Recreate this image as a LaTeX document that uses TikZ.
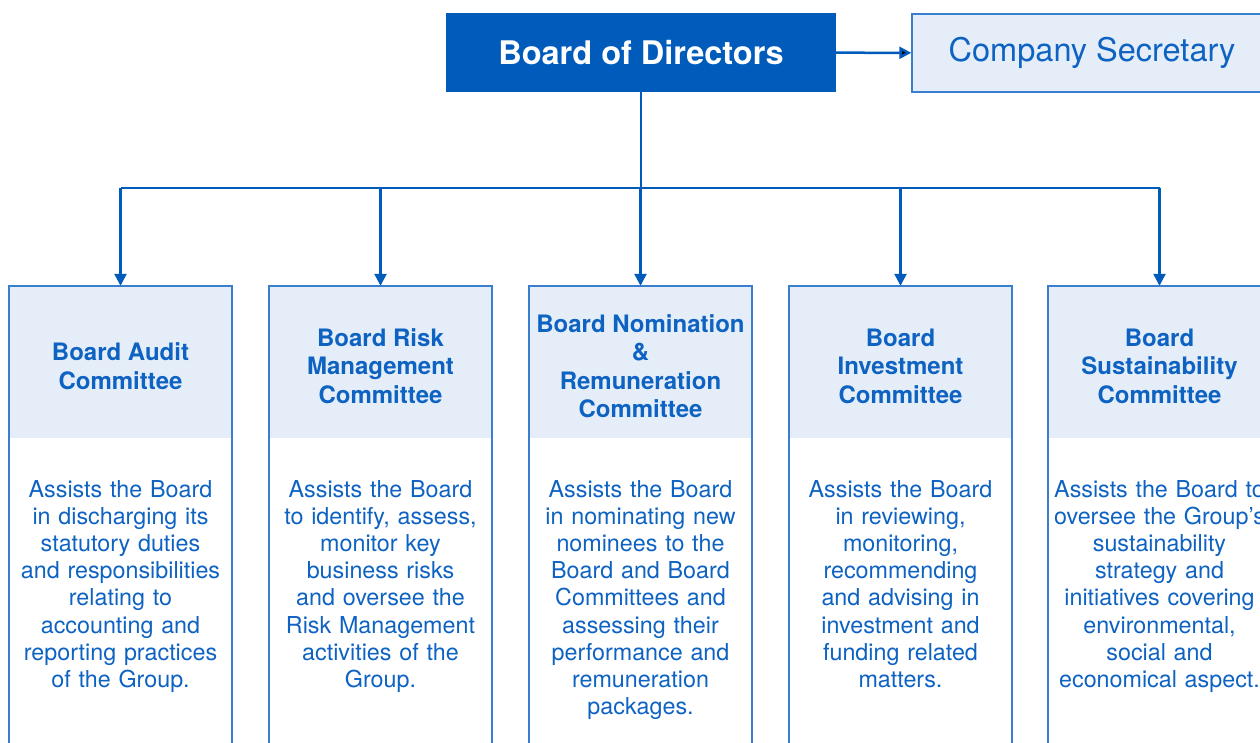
\documentclass[tikz,border=0pt]{standalone}
\usepackage{fontspec}
\setmainfont{TeX Gyre Heros}
\usetikzlibrary{arrows.meta}
\definecolor{boardBlue}{HTML}{005BBB}
\definecolor{paleBlue}{HTML}{E5EEF8}
\definecolor{lineBlue}{HTML}{3A7FCF}
\definecolor{textBlue}{HTML}{0D62C2}

\begin{document}
\begin{tikzpicture}[x=1pt, y=-1pt, >={Triangle[length=12pt,width=12pt]}]
        \tikzstyle{boardStyle} = [fill=boardBlue, text=white, inner sep=0pt,
            minimum width=390pt, minimum height=79pt,
            font=\fontsize{32.5}{38}\selectfont\bfseries]
        \tikzstyle{secStyle} = [draw=lineBlue, line width=1.5pt, fill=paleBlue,
            text=textBlue, inner sep=0pt, minimum width=360pt, minimum height=78pt,
            font=\fontsize{32.5}{38}\selectfont]
        \tikzstyle{headStyle} = [fill=paleBlue, inner sep=0pt,
            minimum width=223pt, minimum height=152pt]
        \tikzstyle{titleStyle} = [text=textBlue, inner sep=0pt, align=center,
            font=\fontsize{24}{28.5}\selectfont\bfseries]
        \tikzstyle{bodyStyle} = [text=textBlue, inner sep=0pt, anchor=north,
            text width=230pt, align=center, font=\fontsize{23.3}{27.2}\selectfont]
        \tikzstyle{blueEdge} = [draw=boardBlue, line width=2.5pt]
        \useasboundingbox (0,0) rectangle (1260,742);
        \clip (0,0) rectangle (1260,742);
        % top row
        \node[boardStyle] (bod) at (641,52.5) {Board of Directors};
        \node[secStyle] (sec) at (1092,53) {Company Secretary};
        % committees
        \node[headStyle] (audit) at (120.5,362) {};
        \node[headStyle] (risk) at (380.5,362) {};
        \node[headStyle] (nom) at (640.5,362) {};
        \node[headStyle] (inv) at (900.5,362) {};
        \node[headStyle] (sust) at (1159.5,362) {};
        \foreach \n in {audit,risk,nom,inv,sust}
            \draw[lineBlue, line width=1.5pt] (\n.north west) rectangle ++(223,480);
        \node[titleStyle] (auditTitle) at (120.5,366) {Board Audit\\Committee};
        \node[titleStyle] (riskTitle) at (380.5,366) {Board Risk\\Management\\Committee};
        \node[titleStyle] (nomTitle) at (640.5,366) {Board Nomination\\\&\\Remuneration\\Committee};
        \node[titleStyle] (invTitle) at (900.5,366) {Board\\Investment\\Committee};
        \node[titleStyle] (sustTitle) at (1159.5,366) {Board\\Sustainability\\Committee};
        \node[bodyStyle] (auditTxt) at (120.5,480) {Assists the Board\\in discharging its\\statutory duties\\and responsibilities\\relating to\\accounting and\\reporting practices\\of the Group.};
        \node[bodyStyle] (riskTxt) at (380.5,480) {Assists the Board\\to identify, assess,\\monitor key\\business risks\\and oversee the\\Risk Management\\activities of the\\Group.};
        \node[bodyStyle] (nomTxt) at (640.5,480) {Assists the Board\\in nominating new\\nominees to the\\Board and Board\\Committees and\\assessing their\\performance and\\remuneration\\packages.};
        \node[bodyStyle] (invTxt) at (900.5,480) {Assists the Board\\in reviewing,\\monitoring,\\recommending\\and advising in\\investment and\\funding related\\matters.};
        \node[bodyStyle] (sustTxt) at (1159.5,480) {Assists the Board to\\oversee the Group's\\sustainability\\strategy and\\initiatives covering\\environmental,\\social and\\economical aspect.};
        % connectors
        \coordinate (bus) at (641,188);
        \path[blueEdge, ->] (bod) edge (sec);
        \draw[blueEdge] (bod.south) -- (bus);
        \draw[blueEdge] (audit.north |- bus) -- (sust.north |- bus);
        \foreach \n in {audit,risk,nom,inv,sust}
            \draw[blueEdge, ->] (\n.north |- bus) -- (\n.north);
\end{tikzpicture}
\end{document}
